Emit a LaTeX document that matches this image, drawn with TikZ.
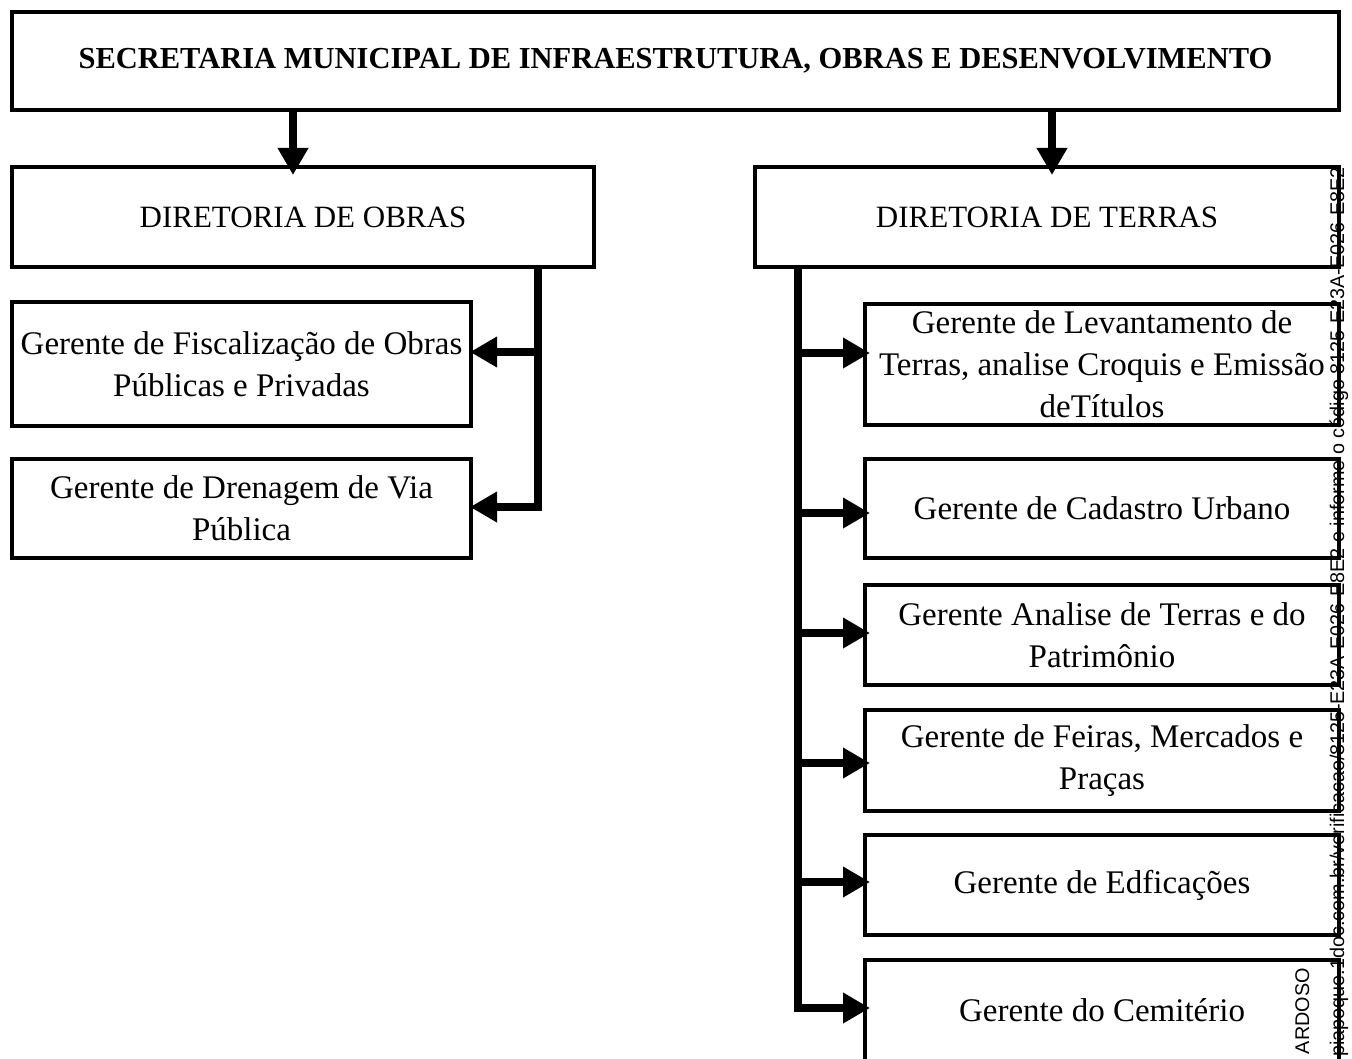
\documentclass[tikz,border=0pt]{standalone}
\usepackage{fontspec}
\setmainfont{Liberation Serif}
\newfontfamily\wmfont{Liberation Sans}
\usetikzlibrary{arrows.meta}
\begin{document}
\begin{tikzpicture}[x=1pt,y=-1pt,
  box/.style={draw, line width=4pt, inner sep=0pt, align=center, font=\fontsize{33}{42}\selectfont},
  dirbox/.style={box, font=\fontsize{31}{38}\selectfont},
  titlebox/.style={box, font=\fontsize{30.5}{36}\selectfont\bfseries},
  arr/.style={line width=8pt, -{Triangle[length=27pt,width=29pt]}},
  wm/.style={rotate=90, anchor=base east, inner sep=0pt, font=\wmfont\fontsize{19.8}{20}\selectfont}
]
\useasboundingbox (0,0) rectangle (1352,1059);
\clip (0,0) rectangle (1352,1059);
\fill[white] (0,0) rectangle (1352,1059);

% boxes
\node[titlebox, minimum width=1327pt, minimum height=98pt] (top) at (675.5,61)
  {SECRETARIA MUNICIPAL DE INFRAESTRUTURA, OBRAS E DESENVOLVIMENTO};
\node[dirbox, minimum width=582pt, minimum height=100pt] (obras) at (303,217) {DIRETORIA DE OBRAS};
\node[dirbox, minimum width=584pt, minimum height=100pt] (terras) at (1047,217) {DIRETORIA DE TERRAS};

\node[box, minimum width=459pt, minimum height=124pt] (fisc) at (241.5,364)
  {Gerente de Fiscalização de Obras\\Públicas e Privadas};
\node[box, minimum width=459pt, minimum height=99pt] (dren) at (241.5,508.5)
  {Gerente de Drenagem de Via\\Pública};

\node[box, minimum width=474pt, minimum height=121pt] (t1) at (1102,364.5)
  {Gerente de Levantamento de\\Terras, analise Croquis e Emissão\\deTítulos};
\node[box, minimum width=474pt, minimum height=99pt] (t2) at (1102,508.5)
  {Gerente de Cadastro Urbano};
\node[box, minimum width=474pt, minimum height=100pt] (t3) at (1102,635)
  {Gerente Analise de Terras e do\\Patrimônio};
\node[box, minimum width=474pt, minimum height=101pt] (t4) at (1102,760.5)
  {Gerente de Feiras, Mercados e\\Praças};
\node[box, minimum width=474pt, minimum height=100pt] (t5) at (1102,885)
  {Gerente de Edficações};
\node[box, minimum width=474pt, minimum height=101pt] (t6) at (1102,1010.5)
  {Gerente do Cemitério};

% connectors from the top box
\coordinate (xA) at (293,0);
\coordinate (xB) at (1052,0);
\draw[arr, shorten >=-10pt] (top.south -| xA) -- (obras.north -| xA);
\draw[arr, shorten >=-10pt] (top.south -| xB) -- (terras.north -| xB);

% left trunk
\coordinate (xL) at (538,0);
\coordinate (cL) at (538,507);
\coordinate (jL) at (538,352);
\draw[arr, shorten >=-3pt] (obras.south -| xL) -- (cL) -- (cL -| dren.east);
\draw[arr, shorten >=-3pt] (jL) -- (jL -| fisc.east);

% right trunk
\coordinate (xR) at (798,0);
\coordinate (cR) at (798,1008);
\coordinate (jR1) at (798,353);
\coordinate (jR2) at (798,513);
\coordinate (jR3) at (798,633);
\coordinate (jR4) at (798,763);
\coordinate (jR5) at (798,882);
\draw[arr, shorten >=-7pt] (terras.south -| xR) -- (cR) -- (cR -| t6.west);
\draw[arr, shorten >=-7pt] (jR1) -- (jR1 -| t1.west);
\draw[arr, shorten >=-7pt] (jR2) -- (jR2 -| t2.west);
\draw[arr, shorten >=-7pt] (jR3) -- (jR3 -| t3.west);
\draw[arr, shorten >=-7pt] (jR4) -- (jR4 -| t4.west);
\draw[arr, shorten >=-7pt] (jR5) -- (jR5 -| t5.west);

% vertical watermark
\node[wm] (wm1) at (1344,167)
  {piapoque.1doc.com.br/verificacao/8125-E23A-E026-E8E2 e informe o código 8125-E23A-E026-E8E2};
\node[wm] (wm2) at (1309,968) {ARDOSO};
\end{tikzpicture}
\end{document}
